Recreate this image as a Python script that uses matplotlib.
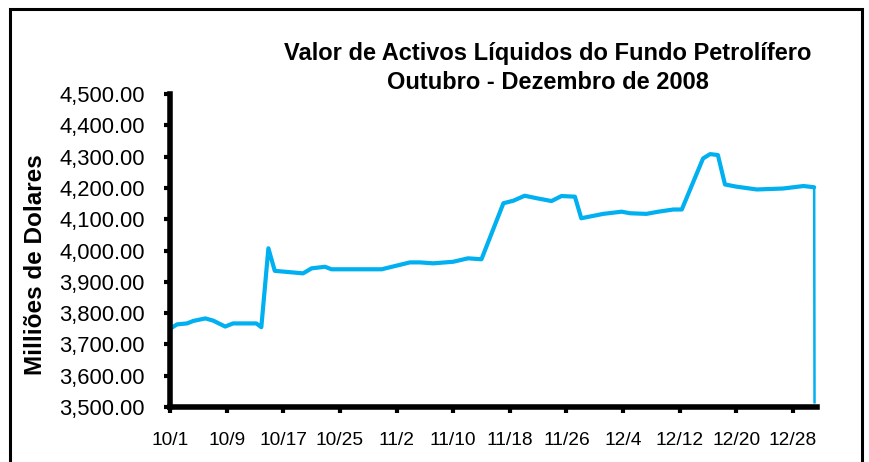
import matplotlib
matplotlib.use("Agg")
import matplotlib.pyplot as plt
from matplotlib.patches import Rectangle
from matplotlib.ticker import FuncFormatter

plt.rcParams['font.family'] = ['Liberation Sans', 'DejaVu Sans']

# days since 1 Oct 2008
days = [0, 1, 2.4, 3.3, 5, 6.1, 7.8, 8.9, 12.2, 12.9, 13.9, 14.8, 18.8, 20, 21.9,
        22.8, 29.9, 33.9, 35.3, 37.2, 40, 42.1, 44, 47.1, 48.5, 50.1, 51.8, 53.9,
        55.3, 57.2, 58.1, 61.2, 63.8, 65, 67.3, 69, 71.1, 72.3, 75.3, 76.3, 77.4,
        78.4, 80, 82.9, 86.6, 89.5, 91]
values = [3750, 3764, 3767, 3775, 3783, 3776, 3757, 3767, 3767, 3755, 4007, 3935,
          3927, 3943, 3948, 3940, 3940, 3962, 3962, 3959, 3964, 3975, 3972, 4151,
          4159, 4175, 4167, 4158, 4174, 4172, 4103, 4117, 4124, 4119, 4117, 4124,
          4131, 4131, 4294, 4308, 4305, 4211, 4204, 4195, 4198, 4206, 4202]
final_day = 91.05
final_value = 3515

tick_days = [0, 8, 16, 24, 32, 40, 48, 56, 64, 72, 80, 88]
tick_labels = ['10/1', '10/9', '10/17', '10/25', '11/2', '11/10', '11/18',
               '11/26', '12/4', '12/12', '12/20', '12/28']
y_ticks = [3500, 3600, 3700, 3800, 3900, 4000, 4100, 4200, 4300, 4400, 4500]

title = 'Valor de Activos Líquidos do Fundo Petrolífero\nOutubro - Dezembro de 2008'
ylabel = 'Milliões de Dolares'

fig = plt.figure(figsize=(8.7, 4.62), dpi=100)
ax = fig.add_axes([170/870, 55/462, (817-170)/870, (407-94)/462])

ax.plot(days, values, color='#00B0F0', lw=3.0, solid_joinstyle='round',
        solid_capstyle='round')
ax.plot([days[-1], final_day], [values[-1], final_value], color='#00B0F0', lw=1.8)

ax.set_xlim(0, 91.4)
ax.set_ylim(3500, 4500)
ax.set_xticks(tick_days)
ax.set_xticklabels(tick_labels)
ax.set_yticks(y_ticks)
ax.yaxis.set_major_formatter(FuncFormatter(lambda v, p: f'{v:,.2f}'))

for s in ['top', 'right']:
    ax.spines[s].set_visible(False)
for s in ['left', 'bottom']:
    ax.spines[s].set_linewidth(4)
    ax.spines[s].set_color('black')

ax.tick_params(axis='y', direction='out', length=4, width=3, labelsize=15.8, pad=14)
ax.tick_params(axis='x', direction='out', length=4, width=3, labelsize=13.8, pad=14)

ax.set_ylabel(ylabel, fontsize=17.5, fontweight='bold')
ax.yaxis.set_label_coords(36/870, 1 - 265/462, transform=fig.transFigure)
ax.yaxis.label.set_va('center')

fig.text(548/870, 1 - 68/462, title, ha='center', va='center', fontsize=17,
         fontweight='bold', linespacing=1.32)

fig.patches.append(Rectangle((10/870, -0.05), (862-10)/870, 1 - 9/462 + 0.05,
                             transform=fig.transFigure, fill=False,
                             edgecolor='black', linewidth=2.2, zorder=10))

fig.savefig('out.png', dpi=100)
